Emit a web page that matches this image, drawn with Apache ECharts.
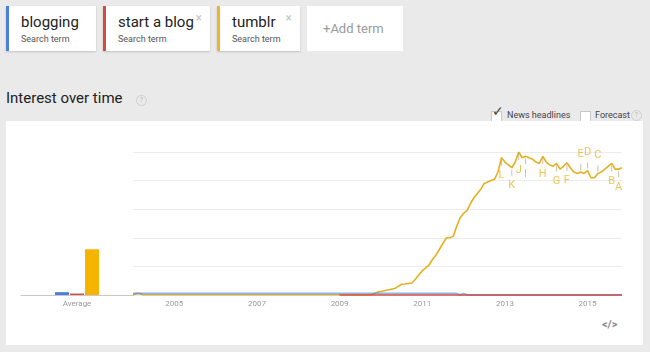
<!doctype html>
<html>
<head>
<meta charset="utf-8">
<title>Interest over time</title>
<script src="https://cdn.jsdelivr.net/npm/echarts@6/dist/echarts.min.js"></script>
<style>
  body { margin:0; width:650px; height:352px; background:#ebeaea; font-family:Roboto, Arial, sans-serif; position:relative; overflow:hidden; }
  .term { position:absolute; top:6px; height:45px; background:#fff; box-shadow:0 1px 2px rgba(0,0,0,.18); box-sizing:border-box; border-left:3px solid; }
  .term .name { position:absolute; left:12px; top:7px; font-size:15px; color:#222; white-space:nowrap; }
  .term .sub { position:absolute; left:12px; top:28px; font-size:9px; color:#555; white-space:nowrap; }
  .term .x { position:absolute; right:8px; top:5px; font-size:12px; color:#c4c4c4; }
  .add { position:absolute; left:307px; top:6px; width:96px; height:45px; background:#fff; color:#9a9a9a; font-size:13px; line-height:45px; text-indent:16px; }
  .title { position:absolute; left:6px; top:89px; font-size:15px; color:#222; }
  .help { position:absolute; width:9px; height:9px; border:1px solid #d0d0d0; border-radius:50%; font-size:7px; line-height:9px; text-align:center; color:#bbb; }
  .box { position:absolute; top:111px; width:9px; height:9px; border:1px solid #c8c8c8; background:#fff; }
  .lbl { position:absolute; top:110px; font-size:9px; color:#444; white-space:nowrap; }
  .panel { position:absolute; left:6px; top:121px; width:637px; height:224px; background:#fff; }
  .embed { position:absolute; left:602px; top:318px; font-size:11px; color:#888; font-weight:bold; }
  #chart { position:absolute; left:0; top:0; width:650px; height:352px; }
</style>
</head>
<body>
  <div class="term" style="left:6px;width:90px;border-color:#4a80d8"><span class="name">blogging</span><span class="sub">Search term</span></div>
  <div class="term" style="left:103px;width:107px;border-color:#d44b3f"><span class="name">start a blog</span><span class="sub">Search term</span><span class="x">×</span></div>
  <div class="term" style="left:217px;width:83px;border-color:#f0b428"><span class="name">tumblr</span><span class="sub">Search term</span><span class="x">×</span></div>
  <div class="add">+Add term</div>
  <div class="title">Interest over time</div>
  <span class="help" style="left:136px;top:95px">?</span>
  <span class="box" style="left:491px"></span><span class="lbl" style="left:492px;top:103px;font-size:14px;color:#444">✓</span>
  <span class="lbl" style="left:507px">News headlines</span>
  <span class="box" style="left:580px"></span>
  <span class="lbl" style="left:595px">Forecast</span>
  <span class="help" style="left:631px;top:110px">?</span>
  <div class="panel"></div>
  <div class="embed">&lt;/&gt;</div>
  <div id="chart"></div>

<script type="text/javascript">
// search terms and their averages
var terms = ['blogging', 'start a blog', 'tumblr'];
var termColors = ['#4a80d8', '#d44b3f', '#f4b400'];
var averages = [2, 1, 32];

// monthly values, Jan 2004 .. Nov 2015
var firstYear = 2004;
var monthCount = 143;
var yearLabels = ['2005', '2007', '2009', '2011', '2013', '2015'];

var blogging = [
  1,1,1,1,1,1,1,1,1,1,1,1, 1,1,1,1,1,1,1,1,1,1,1,1,
  1,1,1,1,1,1,1,1,1,1,1,1, 1,1,1,1,1,1,1,1,1,1,1,1,
  1,1,1,1,1,1,1,1,1,1,1,1, 1,1,1,1,1,1,1,1,1,1,1,1,
  1,1,1,1,1,1,1,1,1,1,1,1, 1,1,1,1,1,1,1,1,1,1,1,0,
  1,0,0,0,0,0,0,0,0,0,0,0, 0,0,0,0,0,0,0,0,0,0,0,0,
  0,0,0,0,0,0,0,0,0,0,0,0, 0,0,0,0,0,0,0,0,0,0,0
];
var startABlog = [
  null,null,null,null,null,null,null,null,null,null,null,null,
  null,null,null,null,null,null,null,null,null,null,null,null,
  null,null,null,null,null,null,null,null,null,null,null,null,
  null,null,null,null,null,null,null,null,null,null,null,null,
  null,null,null,null,null,null,null,null,null,null,null,null,
  0,0,0,0,0,0,0,0,0,0,0,0, 0,0,0,0,0,0,0,0,0,0,0,0,
  0,0,0,0,0,0,0,0,0,0,0,0, 0,0,0,0,0,0,0,0,0,0,0,0,
  0,0,0,0,0,0,0,0,0,0,0,0, 0,0,0,0,0,0,0,0,0,0,0,0,
  0,0,0,0,0,0,0,0,0,0,0
];
var tumblr = [
  0,1,1,0,0,0,0,0,0,0,0,0, 0,0,0,0,0,0,0,0,0,0,0,0,
  0,0,0,0,0,0,0,0,0,0,0,0, 0,0,0,0,0,0,0,0,0,0,0,0,
  0,0,0,0,0,0,0,0,0,0,0,0, 0,0,0,0,0,0,0,0,0,0,1,2,
  2.5,3,3.5,4,4.5,6,7.5,7.7,8,8.4,11,14, 17,19,21,25,28,32,36,40,40,41,48,54,
  57,59,64,68,71,74,78,79,80,81,86,96, 93,91,89,93,100,96,97,96,95,93,92,97,
  93,91,90,92,88,90,92.5,89,86,85,86,85, 87,82,82,85,86,88,90,92,88,88,89
];

// news headline markers on the tumblr line
var newsLetters = ['L', 'K', 'J', 'I', 'H', 'G', 'F', 'E', 'D', 'C', 'B', 'A'];
var newsMonths = [107, 110, 112, 114, 119, 123, 126, 130, 132, 135, 139, 141];
var newsAbove = ['E', 'D', 'C'];

var months = [];
for (var i = 0; i < monthCount; i++) {
  var y = firstYear + Math.floor(i / 12);
  var m = i % 12 + 1;
  months.push(y + '-' + (m < 10 ? '0' + m : m));
}

var marks = [];
for (var k = 0; k < newsLetters.length; k++) {
  var up = newsAbove.indexOf(newsLetters[k]) >= 0;
  marks.push({
    value: [newsMonths[k], tumblr[newsMonths[k]]],
    symbolOffset: [0, up ? -5 : 5],
    label: { formatter: newsLetters[k], offset: [0, up ? -13 : 13] }
  });
}

var yellowLine = '#e5b020';
var chart = echarts.init(document.getElementById('chart'));
chart.setOption({
  animation: false,
  textStyle: { fontFamily: 'Roboto, Arial, sans-serif' },
  grid: [
    { left: 21, width: 112, top: 152, bottom: 57 },
    { left: 133, right: 28, top: 152, bottom: 57 }
  ],
  xAxis: [
    {
      gridIndex: 0, type: 'category', data: ['Average'],
      axisLine: { lineStyle: { color: '#c8c8c8' } },
      axisTick: { show: false },
      axisLabel: { color: '#999', fontSize: 8, margin: 5 }
    },
    {
      gridIndex: 1, type: 'category', data: months, boundaryGap: false,
      axisLine: { show: false }, axisTick: { show: false },
      axisLabel: {
        color: '#999', fontSize: 8, margin: 5,
        interval: function (idx, val) { return yearLabels.indexOf(val.slice(0, 4)) >= 0 && val.slice(5) === '01'; },
        formatter: function (val) { return val.slice(0, 4); }
      }
    }
  ],
  yAxis: [
    { gridIndex: 0, type: 'value', min: 0, max: 100, show: false },
    {
      gridIndex: 1, type: 'value', min: 0, max: 100, interval: 20,
      axisLine: { show: false }, axisTick: { show: false }, axisLabel: { show: false },
      splitLine: { lineStyle: { color: '#ececec' } }
    }
  ],
  series: [
    { name: terms[0], type: 'bar', xAxisIndex: 0, yAxisIndex: 0, data: [averages[0]], barWidth: 14, barGap: '7%', itemStyle: { color: termColors[0] } },
    { name: terms[1], type: 'bar', xAxisIndex: 0, yAxisIndex: 0, data: [averages[1]], barWidth: 14, barGap: '7%', itemStyle: { color: termColors[1] } },
    { name: terms[2], type: 'bar', xAxisIndex: 0, yAxisIndex: 0, data: [averages[2]], barWidth: 14, barGap: '7%', itemStyle: { color: termColors[2] } },
    { name: terms[2], type: 'line', xAxisIndex: 1, yAxisIndex: 1, data: tumblr, showSymbol: false, lineStyle: { color: yellowLine, width: 1.6 }, z: 2 },
    { name: terms[0], type: 'line', xAxisIndex: 1, yAxisIndex: 1, data: blogging, showSymbol: false, lineStyle: { color: termColors[0], width: 2, opacity: 0.6 }, z: 3 },
    { name: terms[1], type: 'line', xAxisIndex: 1, yAxisIndex: 1, data: startABlog, showSymbol: false, lineStyle: { color: termColors[1], width: 2, opacity: 0.7 }, z: 4 },
    {
      name: 'news', type: 'scatter', xAxisIndex: 1, yAxisIndex: 1, data: marks, z: 5,
      symbol: 'rect', symbolSize: [1, 6],
      itemStyle: { color: '#b8b09a' },
      label: { show: true, position: 'inside', color: '#e9b428', fontSize: 11 }
    }
  ]
});
</script>
</body>
</html>
